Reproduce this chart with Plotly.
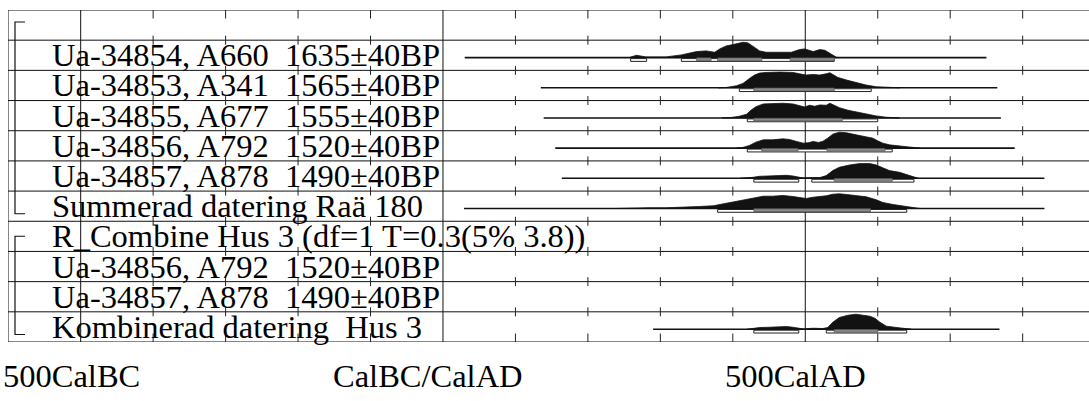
import plotly.graph_objects as go

# ---------------- DATA ----------------
row_labels = [
    "",
    "Ua-34854, A660  1635±40BP",
    "Ua-34853, A341  1565±40BP",
    "Ua-34855, A677  1555±40BP",
    "Ua-34856, A792  1520±40BP",
    "Ua-34857, A878  1490±40BP",
    "Summerad datering Raä 180",
    "R_Combine Hus 3 (df=1 T=0.3(5% 3.8))",
    "Ua-34856, A792  1520±40BP",
    "Ua-34857, A878  1490±40BP",
    "Kombinerad datering  Hus 3",
]

# calendar years (negative = BC) and relative probability heights per row
r1_years = [257, 267, 280, 308, 329, 350, 363, 375, 382, 391, 402, 414, 421, 428, 437, 446, 465, 481, 492, 499, 511, 520, 527, 538, 543, 547]
r1_prob = [0, 2.3, 0.7, 0.7, 2.7, 6, 6.7, 5.3, 8.7, 11.7, 13.3, 15.3, 14.7, 11, 6.7, 5.3, 5.3, 5.3, 8, 8.7, 6, 8, 7.3, 2, 0.3, 0]
r2_years = [380, 391, 405, 414, 423, 430, 437, 446, 465, 483, 492, 501, 511, 520, 529, 534, 538, 545, 557, 570, 584, 598, 612, 630]
r2_prob = [0, 0.3, 2, 4.3, 9.3, 12.7, 14.7, 15.3, 15.7, 15.3, 14, 12.7, 13.3, 12.7, 14, 15, 13.3, 10.3, 7.7, 5, 2.7, 1, 0.3, 0]
r3_years = [385, 396, 409, 419, 425, 432, 442, 455, 469, 483, 492, 499, 506, 513, 520, 529, 534, 541, 547, 559, 570, 584, 598, 612, 630]
r3_prob = [0, 0.3, 1.7, 3.7, 7.7, 11.3, 14, 14.3, 14.7, 14, 12.7, 11, 12.7, 11.7, 13, 12.7, 14.7, 12.7, 10.3, 7.7, 6, 3.7, 2, 0.7, 0]
r4_years = [405, 414, 423, 432, 442, 455, 469, 478, 488, 497, 504, 511, 518, 524, 531, 538, 547, 557, 570, 584, 593, 600, 607, 616, 630, 639, 649, 658]
r4_prob = [0, 0.7, 2.7, 6, 8.3, 8.3, 9.3, 8.7, 6.7, 5, 5.3, 6.7, 5.7, 6.7, 10, 14, 16, 15.3, 13.3, 11.3, 10, 7.3, 5, 3.3, 2.3, 1.3, 0.3, 0]
r5_years = [410, 419, 428, 437, 451, 465, 474, 483, 490, 497, 511, 520, 529, 538, 547, 561, 575, 589, 598, 607, 616, 630, 639, 649, 656]
r5_prob = [0, 0.3, 1, 2, 2.3, 2.7, 3, 2.3, 1, 0.3, 0.7, 0.7, 2.7, 7.7, 11, 13.3, 14.7, 14.7, 13.3, 10.3, 7.7, 6, 4, 1, 0]
r6_years = [240, 253, 285, 308, 331, 354, 373, 382, 400, 414, 428, 442, 455, 469, 483, 492, 501, 511, 520, 529, 538, 547, 557, 570, 584, 598, 607, 621, 635, 649, 658]
r6_prob = [0, 0.3, 0.7, 0.7, 1, 2, 2.7, 4, 6, 8, 10.7, 12.3, 12.3, 13, 12, 10.7, 10, 11.3, 12, 12.7, 14.3, 14.7, 14, 13, 11.7, 8.7, 6, 4, 2.7, 0.7, 0]
r10_years = [420, 428, 437, 451, 465, 474, 483, 490, 497, 511, 524, 531, 538, 547, 559, 570, 580, 589, 596, 603, 612, 626, 639, 646]
r10_prob = [0, 0.7, 1.7, 2, 2.3, 2.7, 2, 1, 0.3, 1, 0.7, 1.7, 7, 11.7, 14, 15, 14.3, 13, 11, 7, 3, 1.7, 0.7, 0]

dist_rows = [1, 2, 3, 4, 5, 6, 10]
dist_years = [r1_years, r2_years, r3_years, r4_years, r5_years, r6_years, r10_years]
dist_probs = [r1_prob, r2_prob, r3_prob, r4_prob, r5_prob, r6_prob, r10_prob]
line_start = [30, 135, 139, 155, 164, 29, 290]
line_end = [750, 765, 770, 789, 830, 830, 768]

range95 = [
    [(259, 281), (329, 540)],
    [(409, 591)],
    [(420, 600)],
    [(420, 620)],
    [(429, 491), (509, 650)],
    [(379, 640)],
    [(429, 491), (529, 640)],
]
range68 = [
    [(350, 370), (379, 440), (479, 540)],
    [(429, 540)],
    [(429, 551)],
    [(440, 490), (530, 610)],
    [(540, 620)],
    [(429, 590)],
    [(540, 600)],
]

group_rows = [(0, 6), (7, 10)]

tick_years = list(range(-400, 900, 100))
major_years = [-500, 0, 500]
axis_label_years = [-500, 0, 500]
axis_label_text = ["500CalBC", "CalBC/CalAD", "500CalAD"]

# ---------------- LAYOUT CONSTANTS ----------------
W, H = 1089, 401
M_L, M_T = 8, 10
N_ROWS = 11
PX_PER_YEAR = 0.7246
X0 = -600.3
X1 = X0 + (W - M_L) / PX_PER_YEAR
PLOT_H = 332
PX_ROW = PLOT_H / N_ROWS
FSIZE = 32.5


def py(px):
    """pixel length -> row units"""
    return px / PX_ROW


def pxx(px):
    return px / PX_PER_YEAR


FONT = "Liberation Serif, Times New Roman, serif"

fig = go.Figure()
shapes = []

# grid: row lines
for k in range(N_ROWS + 1):
    shapes.append(dict(type="line", xref="x", yref="y", x0=X0, x1=X1, y0=k, y1=k,
                       line=dict(color="#111", width=1), layer="below"))
# full verticals
for xv in [X0] + major_years:
    shapes.append(dict(type="line", xref="x", yref="y", x0=xv, x1=xv, y0=0, y1=N_ROWS,
                       line=dict(color="#111", width=1), layer="below"))
# small tick crosses
for xv in tick_years:
    if xv in major_years:
        continue
    for k in range(N_ROWS + 1):
        if k == 0:
            a, b = 0, py(8.5)
        elif k == N_ROWS:
            a, b = N_ROWS - py(8.5), N_ROWS
        else:
            a, b = k - py(4.5), k + py(4.5)
        shapes.append(dict(type="line", xref="x", yref="y", x0=xv, x1=xv, y0=a, y1=b,
                           line=dict(color="#222", width=1), layer="below"))

# group brackets
bx = X0 + pxx(7)
bx2 = X0 + pxx(17)
for (g0, g1), (t_off, b_off) in zip(group_rows, [(py(12), py(7.5)), (py(15), py(7.5))]):
    ytop = g0 + t_off
    ybot = g1 + 1 - b_off
    shapes.append(dict(type="path", xref="x", yref="y",
                       path=f"M {bx2},{ytop} L {bx},{ytop} L {bx},{ybot} L {bx2},{ybot}",
                       line=dict(color="#111", width=1.2)))

# distributions
for i, row in enumerate(dist_rows):
    base = row + py(17.4)
    fig.add_trace(go.Scatter(x=[line_start[i], line_end[i]], y=[base, base], mode="lines",
                             line=dict(color="#111", width=1.6), hoverinfo="skip", showlegend=False))
    xs = dist_years[i]
    ys = [base - py(p) for p in dist_probs[i]]
    fig.add_trace(go.Scatter(x=xs + [xs[-1], xs[0]], y=ys + [base, base], mode="lines",
                             fill="toself", fillcolor="#121212",
                             line=dict(color="#121212", width=0.8), hoverinfo="skip",
                             showlegend=False))
    for (a, b) in range95[i]:
        shapes.append(dict(type="rect", xref="x", yref="y", x0=a, x1=b,
                           y0=base + py(1.0), y1=base + py(3.8),
                           fillcolor="white", line=dict(color="#222", width=1), layer="above"))
    for (a, b) in range68[i]:
        shapes.append(dict(type="rect", xref="x", yref="y", x0=a, x1=b,
                           y0=base + py(0.3), y1=base + py(3.0),
                           fillcolor="#8a8a8a", line=dict(color="#555", width=0.8), layer="above"))

annotations = []
label_x = X0 + pxx(42)
for k, txt in enumerate(row_labels):
    if not txt:
        continue
    annotations.append(dict(x=label_x, y=k + 0.5, xref="x", yref="y", text=txt,
                            xanchor="left", yanchor="middle", showarrow=False,
                            font=dict(family=FONT, size=FSIZE, color="black")))

# bottom axis labels (placed in paper coordinates below the frame)
label_shift = [-9.5, -15, -10]
lab_y = -(376 - M_T - PLOT_H) / PLOT_H
for yr, txt, sh in zip(axis_label_years, axis_label_text, label_shift):
    annotations.append(dict(x=yr, y=lab_y, xref="x", yref="paper", text=txt,
                            xanchor="center", yanchor="middle", xshift=sh, showarrow=False,
                            font=dict(family=FONT, size=FSIZE, color="black")))

fig.update_layout(
    width=W, height=H,
    margin=dict(l=M_L, r=0, t=M_T, b=H - M_T - PLOT_H),
    paper_bgcolor="white", plot_bgcolor="white",
    xaxis=dict(range=[X0, X1], visible=False, fixedrange=True),
    yaxis=dict(range=[N_ROWS, 0], visible=False, fixedrange=True),
    shapes=shapes, annotations=annotations, showlegend=False,
)

fig.write_html("out.html", config={"displayModeBar": False},
               post_script="document.body.style.margin='0';document.body.style.padding='0';")
